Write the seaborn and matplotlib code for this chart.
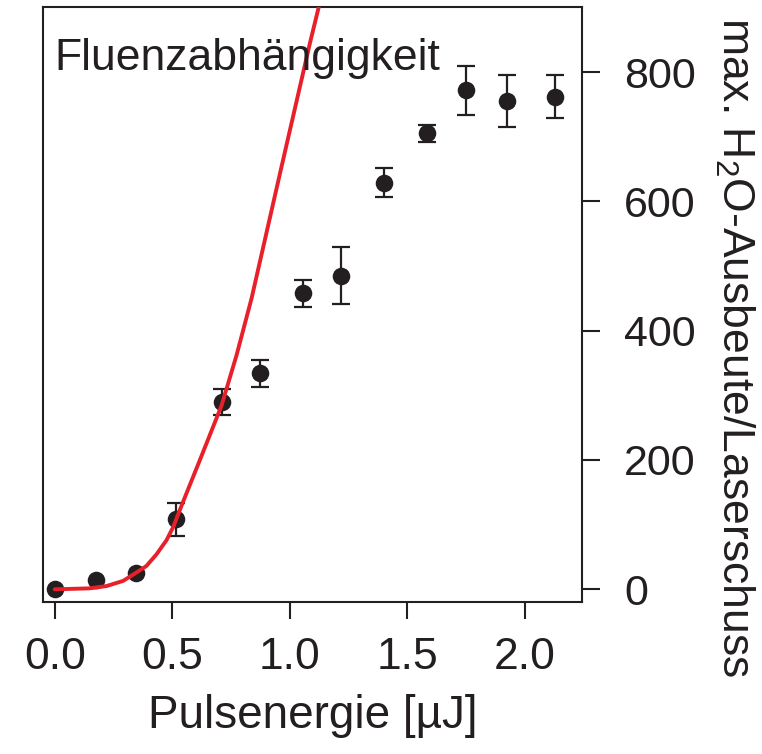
import matplotlib
matplotlib.use("Agg")
import matplotlib.pyplot as plt
import seaborn as sns
import numpy as np
import pandas as pd

# ---- data ----
pulse_energy = [0.0, 0.175, 0.348, 0.518, 0.713, 0.874, 1.058, 1.218, 1.401, 1.583, 1.750, 1.924, 2.129]
yield_per_shot = [0, 14, 26, 108, 290, 334, 458, 485, 629, 705, 772, 755, 762]
yield_err = [0, 0, 0, 25, 20, 21, 21, 44, 22, 13, 38, 40, 33]

fit_energy = [0.0, 0.149, 0.220, 0.291, 0.348, 0.390, 0.433, 0.476, 0.504, 0.546,
              0.618, 0.710, 0.774, 0.838, 0.962, 1.086, 1.129]
fit_yield = [0, 1.5, 5, 13, 26, 36, 54, 76, 96, 135,
             200, 284, 362, 450, 648, 844, 908]

x_ticks = [0.0, 0.5, 1.0, 1.5, 2.0]
x_ticklabels = ["0.0", "0.5", "1.0", "1.5", "2.0"]
y_ticks = [0, 200, 400, 600, 800]
y_ticklabels = ["0", "200", "400", "600", "800"]

title_text = "Fluenzabhängigkeit"
x_label = "Pulsenergie [µJ]"
y_label = "max. H$_2$O-Ausbeute/Laserschuss"

# ---- style ----
sns.set_theme(style="white")
plt.rcParams["font.family"] = ["Liberation Sans", "DejaVu Sans"]
plt.rcParams["mathtext.default"] = "regular"
INK = "#231f20"
RED = "#e8202a"

df_pts = pd.DataFrame({"E": pulse_energy, "Y": yield_per_shot, "err": yield_err})
df_fit = pd.DataFrame({"E": fit_energy, "Y": fit_yield})

fig = plt.figure(figsize=(7.62, 7.54), dpi=100)
ax = fig.add_axes([0.0564, 0.2016, 0.7078, 0.7895])

# error bars
err_pts = df_pts[df_pts["err"] > 0]
ax.errorbar(err_pts["E"], err_pts["Y"], yerr=err_pts["err"], fmt="none",
            ecolor=INK, elinewidth=1.6, capsize=6.5, capthick=1.6, zorder=2)
sns.scatterplot(data=df_pts, x="E", y="Y", ax=ax, color=INK, s=160,
                edgecolor=INK, linewidth=0, zorder=3, legend=False)
sns.lineplot(data=df_fit, x="E", y="Y", ax=ax, color=RED, linewidth=2.8,
             zorder=4, sort=True, estimator=None)
for ln in ax.get_lines():
    ln.set_solid_joinstyle("round")
    ln.set_solid_capstyle("round")

ax.set_xlim(-0.05, 2.246)
ax.set_ylim(-19.6, 901)

ax.set_xticks(x_ticks)
ax.set_xticklabels(x_ticklabels)
ax.set_yticks(y_ticks)
ax.set_yticklabels(y_ticklabels)

ax.yaxis.tick_right()
ax.yaxis.set_label_position("right")
ax.tick_params(axis="x", which="both", direction="out", length=12, width=1.5,
               color=INK, labelsize=32, labelcolor=INK, pad=13, bottom=True, top=False)
ax.tick_params(axis="y", which="both", direction="out", length=13, width=1.5,
               color=INK, labelsize=31, labelcolor=INK, pad=17, right=True, left=False)

for side in ["left", "right", "top", "bottom"]:
    ax.spines[side].set_visible(True)
    ax.spines[side].set_color(INK)
    ax.spines[side].set_linewidth(1.5)

ax.set_xlabel(x_label, fontsize=33, color=INK, labelpad=12)
ax.set_ylabel(y_label, fontsize=32, color=INK, rotation=270)
ax.yaxis.label.set_ha("center")
ax.yaxis.label.set_va("center")
ax.yaxis.set_label_coords(1.283, 0.428)

ax.text(0.0217, 0.8937, title_text, transform=ax.transAxes, fontsize=32,
        color=INK, ha="left", va="baseline", zorder=5)

ax.grid(False)
fig.savefig("out.png", dpi=100)
